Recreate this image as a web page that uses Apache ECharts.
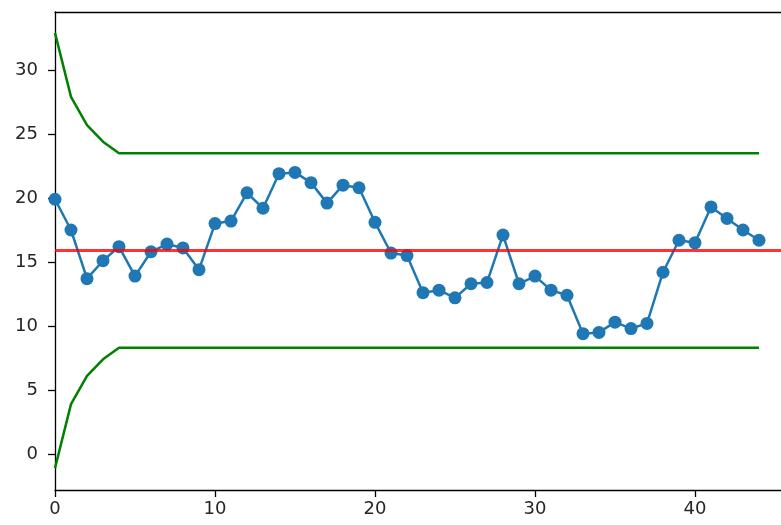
<!DOCTYPE html>
<html>
<head>
<meta charset="utf-8">
<script src="https://cdn.jsdelivr.net/npm/echarts@6/dist/echarts.min.js"></script>
<style>
  html, body { margin: 0; padding: 0; background: #fff; }
  #chart { width: 781px; height: 525px; }
</style>
</head>
<body>
<div id="chart"></div>
<script>
// Sample values (one per observation, index 0..44)
const samples = [
  19.9, 17.5, 13.7, 15.1, 16.2, 13.9, 15.8, 16.4, 16.1, 14.4,
  18.0, 18.2, 20.4, 19.2, 21.9, 22.0, 21.2, 19.6, 21.0, 20.8,
  18.1, 15.7, 15.5, 12.6, 12.8, 12.2, 13.3, 13.4, 17.1, 13.3,
  13.9, 12.8, 12.4, 9.4, 9.5, 10.3, 9.8, 10.2, 14.2, 16.7,
  16.5, 19.3, 18.4, 17.5, 16.7
];

// Centre line
const centerLine = 15.93;

// Upper and lower control limits per observation
const upperLimit = [
  32.9, 27.9, 25.7, 24.4, 23.5, 23.5, 23.5, 23.5, 23.5, 23.5,
  23.5, 23.5, 23.5, 23.5, 23.5, 23.5, 23.5, 23.5, 23.5, 23.5,
  23.5, 23.5, 23.5, 23.5, 23.5, 23.5, 23.5, 23.5, 23.5, 23.5,
  23.5, 23.5, 23.5, 23.5, 23.5, 23.5, 23.5, 23.5, 23.5, 23.5,
  23.5, 23.5, 23.5, 23.5, 23.5
];
const lowerLimit = [
  -1.1, 3.9, 6.1, 7.4, 8.3, 8.3, 8.3, 8.3, 8.3, 8.3,
  8.3, 8.3, 8.3, 8.3, 8.3, 8.3, 8.3, 8.3, 8.3, 8.3,
  8.3, 8.3, 8.3, 8.3, 8.3, 8.3, 8.3, 8.3, 8.3, 8.3,
  8.3, 8.3, 8.3, 8.3, 8.3, 8.3, 8.3, 8.3, 8.3, 8.3,
  8.3, 8.3, 8.3, 8.3, 8.3
];

// Axis ticks
const xTicks = [0, 10, 20, 30, 40];
const yTicks = [0, 5, 10, 15, 20, 25, 30];

const pairs = arr => arr.map((v, i) => [i, v]);

const font = { fontFamily: 'DejaVu Sans', fontSize: 18, color: '#262626' };
const axisLine = { show: true, onZero: false, lineStyle: { color: '#000', width: 1.3 } };
const tickStyle = { color: '#000', width: 1.3 };

const chart = echarts.init(document.getElementById('chart'), null, { renderer: 'canvas' });
chart.setOption({
  animation: false,
  backgroundColor: '#fff',
  grid: { left: 55, top: 12, right: 0, bottom: 35, show: false },
  xAxis: [
    {
      type: 'value', min: 0, max: 45.375, position: 'bottom',
      axisLine: axisLine,
      splitLine: { show: false },
      axisTick: { show: true, length: 7, customValues: xTicks, lineStyle: tickStyle },
      axisLabel: { customValues: xTicks, margin: 10, ...font }
    },
    {
      // top frame line
      type: 'value', min: 0, max: 45.375, position: 'top',
      axisLine: axisLine,
      splitLine: { show: false },
      axisTick: { show: false },
      axisLabel: { show: false }
    }
  ],
  yAxis: {
    type: 'value', min: -2.8125, max: 34.53,
    axisLine: axisLine,
    splitLine: { show: false },
    axisTick: { show: true, length: 7, customValues: yTicks, lineStyle: tickStyle },
    axisLabel: { customValues: yTicks, margin: 17, ...font }
  },
  series: [
    {
      name: 'samples', type: 'line', data: pairs(samples),
      symbol: 'circle', symbolSize: 13, showSymbol: true,
      itemStyle: { color: '#1f77b4' },
      lineStyle: { color: '#1f77b4', width: 2.5 },
      z: 2
    },
    {
      name: 'centre', type: 'line', data: [],
      markLine: {
        silent: true, symbol: ['none', 'none'], label: { show: false },
        lineStyle: { color: 'rgba(255,0,0,0.8)', width: 3, type: 'solid' },
        data: [{ yAxis: centerLine }]
      },
      z: 3
    },
    {
      name: 'ucl', type: 'line', data: pairs(upperLimit), showSymbol: false, symbol: 'none',
      lineStyle: { color: '#008000', width: 2.5 }, z: 3
    },
    {
      name: 'lcl', type: 'line', data: pairs(lowerLimit), showSymbol: false, symbol: 'none',
      lineStyle: { color: '#008000', width: 2.5 }, z: 3
    }
  ]
});
</script>
</body>
</html>
